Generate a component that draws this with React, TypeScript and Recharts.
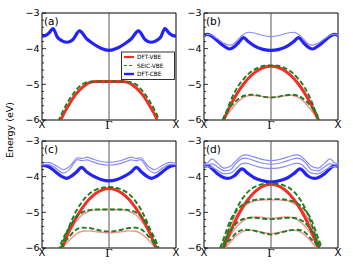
import React from "react";
import { LineChart, Line, XAxis, YAxis, ReferenceLine, ReferenceArea } from "recharts";

// k along X -> Γ -> X, energies in eV
const K_VB = [-0.76, -0.7, -0.6, -0.5, -0.4, -0.3, -0.2, -0.1, 0, 0.1, 0.2, 0.3, 0.4, 0.5, 0.6, 0.7, 0.76];
const Y_TICKS = [-6, -5.8, -5.6, -5.4, -5.2, -5, -4.8, -4.6, -4.4, -4.2, -4, -3.8, -3.6, -3.4, -3.2, -3];
const X_TICKS = [-1, 0, 1];
const X_LABELS = ["X", "Γ", "X"];

// (a)
const A_VBE_DFT = [-6.22, -5.92, -5.58, -5.29, -5.09, -4.96, -4.92, -4.92, -4.92, -4.92, -4.92, -4.96, -5.09, -5.29, -5.58, -5.92, -6.22];
const A_VBE_SEIC = [-6.05, -5.8, -5.45, -5.18, -5.0, -4.93, -4.92, -4.92, -4.92, -4.92, -4.92, -4.93, -5.0, -5.18, -5.45, -5.8, -6.05];
const A_CB_K = [-1, -0.95, -0.9, -0.835, -0.77, -0.7, -0.62, -0.54, -0.44, -0.33, -0.23, -0.12, 0, 0.12, 0.23, 0.33, 0.44, 0.54, 0.62, 0.7, 0.77, 0.835, 0.9, 0.95, 1];
const A_CBE = [-3.65, -3.63, -3.57, -3.44, -3.68, -3.78, -3.82, -3.75, -3.5, -3.73, -3.87, -3.99, -4.05, -3.99, -3.87, -3.73, -3.5, -3.75, -3.82, -3.78, -3.68, -3.44, -3.57, -3.63, -3.65];

// (b)
const B_VBE_DFT = [-6.3, -5.98, -5.57, -5.24, -4.97, -4.76, -4.61, -4.52, -4.49, -4.52, -4.61, -4.76, -4.97, -5.24, -5.57, -5.98, -6.3];
const B_VBE_SEIC = [-6.2, -5.95, -5.45, -5.08, -4.83, -4.65, -4.54, -4.48, -4.47, -4.48, -4.54, -4.65, -4.83, -5.08, -5.45, -5.95, -6.2];
const B_VBE_DFT2 = [-6.3, -6.0, -5.72, -5.5, -5.36, -5.31, -5.32, -5.35, -5.37, -5.35, -5.32, -5.31, -5.36, -5.5, -5.72, -6.0, -6.3];
const B_VBE_SEIC2 = [-6.2, -5.9, -5.62, -5.43, -5.32, -5.29, -5.31, -5.35, -5.37, -5.35, -5.31, -5.29, -5.32, -5.43, -5.62, -5.9, -6.2];
const B_CB_K = [-1, -0.95, -0.9, -0.8, -0.7, -0.62, -0.55, -0.48, -0.41, -0.34, -0.25, -0.12, 0, 0.12, 0.25, 0.34, 0.41, 0.48, 0.55, 0.62, 0.7, 0.8, 0.9, 0.95, 1];
const B_CBE = [-3.63, -3.6, -3.63, -3.78, -3.93, -4.01, -3.95, -3.82, -3.69, -3.8, -3.92, -4.02, -4.05, -4.02, -3.92, -3.8, -3.69, -3.82, -3.95, -4.01, -3.93, -3.78, -3.63, -3.6, -3.63];
const B_CBE2 = [-3.62, -3.6, -3.61, -3.72, -3.85, -3.9, -3.86, -3.72, -3.6, -3.54, -3.56, -3.63, -3.66, -3.63, -3.56, -3.54, -3.6, -3.72, -3.86, -3.9, -3.85, -3.72, -3.61, -3.6, -3.62];

// (c)
const C_VBE_DFT = [-6.3, -6.0, -5.55, -5.18, -4.88, -4.64, -4.47, -4.37, -4.33, -4.37, -4.47, -4.64, -4.88, -5.18, -5.55, -6.0, -6.3];
const C_VBE_SEIC = [-6.2, -5.9, -5.42, -5.0, -4.7, -4.49, -4.37, -4.31, -4.29, -4.31, -4.37, -4.49, -4.7, -5.0, -5.42, -5.9, -6.2];
const C_VBE_DFT2 = [-6.2, -5.95, -5.58, -5.28, -5.07, -4.97, -4.93, -4.92, -4.92, -4.92, -4.93, -4.97, -5.07, -5.28, -5.58, -5.95, -6.2];
const C_VBE_SEIC2 = [-6.1, -5.8, -5.45, -5.15, -5.0, -4.94, -4.92, -4.92, -4.92, -4.92, -4.92, -4.94, -5.0, -5.15, -5.45, -5.8, -6.1];
const C_VBE_DFT3 = [-6.25, -6.02, -5.8, -5.62, -5.53, -5.52, -5.54, -5.56, -5.58, -5.56, -5.54, -5.52, -5.53, -5.62, -5.8, -6.02, -6.25];
const C_VBE_SEIC3 = [-6.2, -5.95, -5.7, -5.5, -5.43, -5.44, -5.48, -5.52, -5.54, -5.52, -5.48, -5.44, -5.43, -5.5, -5.7, -5.95, -6.2];
const C_CB_K = [-1, -0.95, -0.9, -0.8, -0.7, -0.63, -0.55, -0.48, -0.41, -0.33, -0.24, -0.12, 0, 0.12, 0.24, 0.33, 0.41, 0.48, 0.55, 0.63, 0.7, 0.8, 0.9, 0.95, 1];
const C_CBE = [-3.68, -3.69, -3.72, -3.86, -4.0, -4.05, -3.97, -3.86, -3.74, -3.87, -3.98, -4.08, -4.12, -4.08, -3.98, -3.87, -3.74, -3.86, -3.97, -4.05, -4.0, -3.86, -3.72, -3.69, -3.68];
const C_CB2_K = [-1, -0.9, -0.8, -0.68, -0.58, -0.47, -0.4, -0.33, -0.25, -0.15, 0, 0.15, 0.25, 0.33, 0.4, 0.47, 0.58, 0.68, 0.8, 0.9, 1];
const C_CBE2 = [-3.62, -3.6, -3.68, -3.8, -3.7, -3.47, -3.49, -3.45, -3.5, -3.56, -3.6, -3.56, -3.5, -3.45, -3.49, -3.47, -3.7, -3.8, -3.68, -3.6, -3.62];
const C_CBE3 = [-3.66, -3.66, -3.76, -3.9, -3.78, -3.52, -3.55, -3.53, -3.58, -3.64, -3.68, -3.64, -3.58, -3.53, -3.55, -3.52, -3.78, -3.9, -3.76, -3.66, -3.66];

// (d)
const D_VBE_DFT = [-6.3, -5.98, -5.52, -5.12, -4.79, -4.54, -4.36, -4.25, -4.21, -4.25, -4.36, -4.54, -4.79, -5.12, -5.52, -5.98, -6.3];
const D_VBE_SEIC = [-6.2, -5.9, -5.3, -4.85, -4.55, -4.35, -4.25, -4.2, -4.19, -4.2, -4.25, -4.35, -4.55, -4.85, -5.3, -5.9, -6.2];
const D_VBE_DFT2 = [-6.05, -5.78, -5.35, -5.02, -4.82, -4.71, -4.66, -4.65, -4.65, -4.65, -4.66, -4.71, -4.82, -5.02, -5.35, -5.78, -6.05];
const D_VBE_SEIC2 = [-6.0, -5.7, -5.2, -4.92, -4.76, -4.68, -4.64, -4.63, -4.63, -4.63, -4.64, -4.68, -4.76, -4.92, -5.2, -5.7, -6.0];
const D_VBE_DFT3 = [-6.2, -6.0, -5.62, -5.37, -5.22, -5.14, -5.13, -5.15, -5.17, -5.15, -5.13, -5.14, -5.22, -5.37, -5.62, -6.0, -6.2];
const D_VBE_SEIC3 = [-6.1, -5.85, -5.5, -5.28, -5.18, -5.15, -5.16, -5.18, -5.19, -5.18, -5.16, -5.15, -5.18, -5.28, -5.5, -5.85, -6.1];
const D_VBE_DFT4 = [-6.25, -6.05, -5.82, -5.63, -5.52, -5.5, -5.53, -5.57, -5.6, -5.57, -5.53, -5.5, -5.52, -5.63, -5.82, -6.05, -6.25];
const D_VBE_SEIC4 = [-6.2, -5.95, -5.75, -5.55, -5.49, -5.5, -5.54, -5.59, -5.62, -5.59, -5.54, -5.5, -5.49, -5.55, -5.75, -5.95, -6.2];
const D_CB_K = [-1, -0.95, -0.9, -0.8, -0.7, -0.64, -0.55, -0.43, -0.35, -0.25, -0.15, 0, 0.15, 0.25, 0.35, 0.43, 0.55, 0.64, 0.7, 0.8, 0.9, 0.95, 1];
const D_CBE = [-3.71, -3.69, -3.74, -3.92, -4.03, -4.05, -3.98, -3.78, -3.9, -4.03, -4.1, -4.15, -4.1, -4.03, -3.9, -3.78, -3.98, -4.05, -4.03, -3.92, -3.74, -3.69, -3.71];
const D_CB2_K = [-1, -0.94, -0.88, -0.8, -0.7, -0.6, -0.52, -0.44, -0.38, -0.3, -0.2, -0.1, 0, 0.1, 0.2, 0.3, 0.38, 0.44, 0.52, 0.6, 0.7, 0.8, 0.88, 0.94, 1];
const D_CBE2 = [-3.64, -3.6, -3.5, -3.62, -3.76, -3.7, -3.55, -3.42, -3.39, -3.42, -3.48, -3.53, -3.55, -3.53, -3.48, -3.42, -3.39, -3.42, -3.55, -3.7, -3.76, -3.62, -3.5, -3.6, -3.64];
const D_CBE3 = [-3.66, -3.66, -3.64, -3.72, -3.84, -3.8, -3.62, -3.5, -3.48, -3.52, -3.58, -3.63, -3.65, -3.63, -3.58, -3.52, -3.48, -3.5, -3.62, -3.8, -3.84, -3.72, -3.64, -3.66, -3.66];
const D_CBE4 = [-3.7, -3.72, -3.74, -3.82, -3.92, -3.9, -3.78, -3.64, -3.62, -3.66, -3.72, -3.76, -3.77, -3.76, -3.72, -3.66, -3.62, -3.64, -3.78, -3.9, -3.92, -3.82, -3.74, -3.72, -3.7];

type Kind = "dft" | "dft2" | "seic" | "cbe" | "cbe2";

const STYLE: Record<Kind, { stroke: string; width: number; dash?: string }> = {
    dft2: { stroke: "#f29090", width: 1.4 },
    dft: { stroke: "#f22f26", width: 3 },
    seic: { stroke: "#1f7d1f", width: 1.9, dash: "5 2.5" },
    cbe: { stroke: "#2323f5", width: 3.2 },
    cbe2: { stroke: "#8a8afa", width: 1.2 },
};

const ORDER: Kind[] = ["cbe", "cbe2", "dft2", "dft", "seic"];

const pts = (k: number[], e: number[]) => k.map((kk, i) => ({ k: kk, e: e[i] }));

const PANELS = [
    {
        id: "a", left: 42, top: 12.7,
        series: [
            ["dft", K_VB, A_VBE_DFT], ["seic", K_VB, A_VBE_SEIC], ["cbe", A_CB_K, A_CBE],
        ],
    },
    {
        id: "b", left: 204, top: 12.7,
        series: [
            ["dft2", K_VB, B_VBE_DFT2], ["dft", K_VB, B_VBE_DFT], ["seic", K_VB, B_VBE_SEIC], ["seic", K_VB, B_VBE_SEIC2],
            ["cbe", B_CB_K, B_CBE], ["cbe2", B_CB_K, B_CBE2],
        ],
    },
    {
        id: "c", left: 42, top: 141,
        series: [
            ["dft2", K_VB, C_VBE_DFT2], ["dft2", K_VB, C_VBE_DFT3], ["dft", K_VB, C_VBE_DFT],
            ["seic", K_VB, C_VBE_SEIC], ["seic", K_VB, C_VBE_SEIC2], ["seic", K_VB, C_VBE_SEIC3],
            ["cbe", C_CB_K, C_CBE], ["cbe2", C_CB2_K, C_CBE2], ["cbe2", C_CB2_K, C_CBE3],
        ],
    },
    {
        id: "d", left: 204, top: 141,
        series: [
            ["dft2", K_VB, D_VBE_DFT2], ["dft2", K_VB, D_VBE_DFT3], ["dft2", K_VB, D_VBE_DFT4], ["dft", K_VB, D_VBE_DFT],
            ["seic", K_VB, D_VBE_SEIC], ["seic", K_VB, D_VBE_SEIC2], ["seic", K_VB, D_VBE_SEIC3], ["seic", K_VB, D_VBE_SEIC4],
            ["cbe", D_CB_K, D_CBE], ["cbe2", D_CB2_K, D_CBE2], ["cbe2", D_CB2_K, D_CBE3], ["cbe2", D_CB2_K, D_CBE4],
        ],
    },
] as { id: string; left: number; top: number; series: [Kind, number[], number[]][] }[];

const FONT = "'DejaVu Sans', sans-serif";
const MT = 8; // top margin so the -3 label fits
const MR = 6; // right margin so the right X label fits
const PW = 134; // plot width
const PH = 107; // plot height
const YW = 22;
const XH = 15;
const W = YW + PW + MR;
const H = MT + PH + XH;

const LeftTick = (p: any) => {
    const { x, y, payload } = p;
    const v = payload.value as number;
    const major = Number.isInteger(v);
    const edge = x + 2;
    return (
        <g>
            <line x1={edge} x2={edge + (major ? 4 : 2)} y1={y} y2={y} stroke="#000" strokeWidth={0.8} />
            {major && (
                <text x={x - 0.5} y={y} dy="0.36em" textAnchor="end" fontSize={9.5} fontFamily={FONT} fill="#000">
                    {`\u2212${Math.abs(v)}`}
                </text>
            )}
        </g>
    );
};

const RightTick = (p: any) => {
    const { x, y, payload } = p;
    const major = Number.isInteger(payload.value);
    return <line x1={x} x2={x - (major ? 4 : 2)} y1={y} y2={y} stroke="#000" strokeWidth={0.8} />;
};

const BottomTick = (p: any) => {
    const { x, y, payload, index } = p;
    const isGamma = payload.value === 0;
    return (
        <text
            x={x}
            y={y}
            dy="0.72em"
            textAnchor="middle"
            fontSize={isGamma ? 10.5 : 10}
            fontFamily={isGamma ? "'DejaVu Serif', serif" : FONT}
            fill="#000"
        >
            {X_LABELS[index] ?? ""}
        </text>
    );
};

function Panel({ left, top, series }: { left: number; top: number; series: [Kind, number[], number[]][] }) {
    const sorted = ORDER.flatMap((kind) => series.filter((s) => s[0] === kind));
    return (
        <div style={{ position: "absolute", left: left - YW, top: top - MT }}>
            <LineChart width={W} height={H} margin={{ top: MT, right: MR, left: 0, bottom: 0 }}>
                <XAxis
                    dataKey="k"
                    type="number"
                    domain={[-1, 1]}
                    ticks={X_TICKS}
                    allowDataOverflow
                    axisLine={false}
                    tickLine={false}
                    tickSize={0}
                    tickMargin={1}
                    height={XH}
                    tick={<BottomTick />}
                    interval={0}
                />
                <YAxis
                    type="number"
                    domain={[-6, -3]}
                    ticks={Y_TICKS}
                    allowDataOverflow
                    axisLine={false}
                    tickLine={false}
                    tickSize={0}
                    tickMargin={2}
                    width={YW}
                    tick={<LeftTick />}
                    interval={0}
                />
                <YAxis
                    yAxisId="r"
                    orientation="right"
                    type="number"
                    domain={[-6, -3]}
                    ticks={Y_TICKS}
                    allowDataOverflow
                    axisLine={false}
                    tickLine={false}
                    tickSize={0}
                    tickMargin={0}
                    width={0}
                    tick={<RightTick />}
                    interval={0}
                />
                <ReferenceLine x={0} stroke="#444" strokeWidth={0.9} />
                {sorted.map(([kind, k, e], i) => {
                    const st = STYLE[kind];
                    return (
                        <Line
                            key={i}
                            data={pts(k, e)}
                            dataKey="e"
                            type="monotone"
                            stroke={st.stroke}
                            strokeWidth={st.width}
                            strokeDasharray={st.dash}
                            dot={false}
                            activeDot={false}
                            isAnimationActive={false}
                        />
                    );
                })}
                <ReferenceArea
                    yAxisId="r"
                    x1={-1}
                    x2={1}
                    y1={-6}
                    y2={-3}
                    fill="none"
                    fillOpacity={0}
                    stroke="#000"
                    strokeWidth={1}
                    ifOverflow="visible"
                />
            </LineChart>
        </div>
    );
}

const LEGEND = [
    { kind: "dft" as Kind, label: "DFT-VBE" },
    { kind: "seic" as Kind, label: "SEIC-VBE" },
    { kind: "cbe" as Kind, label: "DFT-CBE" },
];

export default function App() {
    return (
        <div style={{ position: "absolute", left: 0, top: 0, width: 353, height: 266, background: "#fff", fontFamily: FONT }}>
            {PANELS.map((p) => (
                <Panel key={p.id} left={p.left} top={p.top} series={p.series} />
            ))}
            <svg width={353} height={266} style={{ position: "absolute", left: 0, top: 0, pointerEvents: "none" }}>
                <text
                    x={0}
                    y={0}
                    transform="translate(13,130) rotate(-90)"
                    textAnchor="middle"
                    fontSize={9.5}
                    fontFamily={FONT}
                    fill="#000"
                >
                    Energy (eV)
                </text>
                {PANELS.map((p) => (
                    <text key={p.id} x={p.left + 2} y={p.top + 12} fontSize={10.5} fontFamily={FONT} fill="#000">
                        ({p.id})
                    </text>
                ))}
                <rect x={121.5} y={52} width={53} height={27.5} fill="#fff" stroke="#000" strokeWidth={0.8} />
                {LEGEND.map((l, i) => {
                    const st = STYLE[l.kind];
                    const y = 57 + i * 8.5;
                    return (
                        <g key={l.label}>
                            <line
                                x1={124}
                                x2={134}
                                y1={y}
                                y2={y}
                                stroke={st.stroke}
                                strokeWidth={st.width - 0.8}
                                strokeDasharray={l.kind === "seic" ? "3 2" : undefined}
                            />
                            <text x={137} y={y} dy="0.36em" fontSize={5.8} fontFamily={FONT} fill="#000">
                                {l.label}
                            </text>
                        </g>
                    );
                })}
            </svg>
        </div>
    );
}
